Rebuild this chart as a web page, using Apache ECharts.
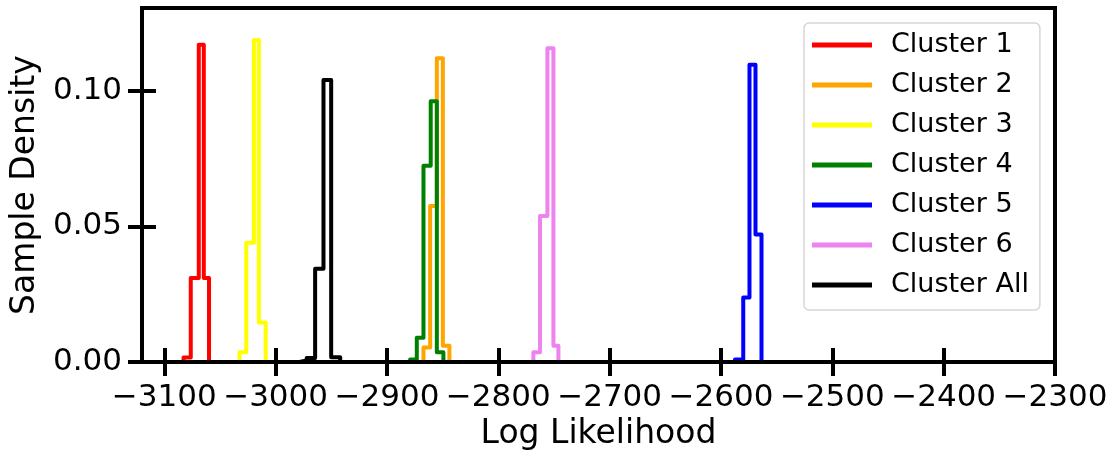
<!DOCTYPE html>
<html>
<head>
<meta charset="utf-8">
<script src="https://cdn.jsdelivr.net/npm/echarts@6/dist/echarts.min.js"></script>
<style>
html,body{margin:0;padding:0;background:#fff;}
#chart{width:1118px;height:456px;}
</style>
</head>
<body>
<div id="chart"></div>
<script>
// ---- data (bin edges and densities) ----
const seriesNames = ['Cluster 1','Cluster 2','Cluster 3','Cluster 4','Cluster 5','Cluster 6','Cluster All'];
const seriesColors = ['#ff0000','#ffa500','#ffff00','#008000','#0000ff','#ee82ee','#000000'];

const c1Edges = [-3082.7, -3076.2, -3069.0, -3064.5, -3059.8];
const c1Dens  = [0.0017, 0.031, 0.117, 0.031];
const c2Edges = [-2867.2, -2861.2, -2855.2, -2849.8, -2843.9];
const c2Dens  = [0.0054, 0.0575, 0.112, 0.006];
const c3Edges = [-3032.4, -3026.4, -3019.5, -3015.0, -3008.9];
const c3Dens  = [0.0036, 0.044, 0.1187, 0.0146];
const c4Edges = [-2879.2, -2873.2, -2867.2, -2860.7, -2855.2, -2849.3];
const c4Dens  = [0.001, 0.009, 0.0724, 0.0961, 0.0036];
const c5Edges = [-2587.4, -2580.0, -2574.4, -2569.0, -2563.6];
const c5Dens  = [0.001, 0.0238, 0.1096, 0.047];
const c6Edges = [-2768.5, -2762.5, -2755.9, -2750.5, -2746.0];
const c6Dens  = [0.0036, 0.0538, 0.1157, 0.006];
const allEdges = [-2979.7, -2972.1, -2964.5, -2957.0, -2950.1, -2942.0];
const allDens  = [0.0006, 0.0015, 0.0344, 0.104, 0.0018];

const xTicks = [-3100, -3000, -2900, -2800, -2700, -2600, -2500, -2400, -2300];
const yTicks = [0.00, 0.05, 0.10];
const xMin = -3120, xMax = -2300;
const yMin = 0, yMax = 0.1305;

const edgeSets = [c1Edges, c2Edges, c3Edges, c4Edges, c5Edges, c6Edges, allEdges];
const densSets = [c1Dens, c2Dens, c3Dens, c4Dens, c5Dens, c6Dens, allDens];

// step outline like a 'step' histogram
function stepPath(edges, dens) {
  const pts = [[edges[0], 0]];
  for (let i = 0; i < dens.length; i++) {
    pts.push([edges[i], dens[i]]);
    pts.push([edges[i + 1], dens[i]]);
  }
  pts.push([edges[edges.length - 1], 0]);
  return pts;
}

const FONT = 'DejaVu Sans';
const fmtX = v => (v < 0 ? '\u2212' + Math.abs(v) : String(v));
const fmtY = v => Number(v).toFixed(2);

const series = seriesNames.map((n, i) => ({
  name: n,
  type: 'line',
  xAxisIndex: 0,
  yAxisIndex: 0,
  data: stepPath(edgeSets[i], densSets[i]),
  showSymbol: false,
  symbol: 'none',
  color: seriesColors[i],
  lineStyle: { color: seriesColors[i], width: 4, join: 'round', cap: 'butt' },
  animation: false,
  z: 3 + i
}));

const chart = echarts.init(document.getElementById('chart'), null, { renderer: 'canvas' });
chart.setOption({
  animation: false,
  backgroundColor: '#ffffff',
  grid: {
    left: 142, right: 63, top: 8, bottom: 93,
    show: true, borderColor: '#000', borderWidth: 4, backgroundColor: 'transparent', z: 10
  },
  legend: {
    orient: 'vertical',
    left: 804, top: 23,
    padding: [7, 11, 10, 8],
    itemGap: 10,
    itemWidth: 60, itemHeight: 5,
    icon: 'rect',
    backgroundColor: '#fff',
    borderColor: '#d6d6d6', borderWidth: 1.5, borderRadius: 5,
    textStyle: { fontFamily: FONT, fontSize: 27, color: '#000', lineHeight: 30, padding: [0, 0, 0, 14] },
    data: seriesNames,
    z: 20
  },
  xAxis: [
    {
      type: 'value', position: 'bottom', min: xMin, max: xMax,
      name: 'Log Likelihood', nameLocation: 'middle', nameGap: 55,
      nameTextStyle: { fontFamily: FONT, fontSize: 33, color: '#000' },
      axisLine: { show: false },
      splitLine: { show: false },
      axisTick: { show: true, inside: false, length: 14, customValues: xTicks, lineStyle: { color: '#000', width: 4 } },
      axisLabel: { show: true, customValues: xTicks, formatter: fmtX, margin: 20, fontFamily: FONT, fontSize: 31, color: '#000' }
    },
    {
      type: 'value', position: 'bottom', min: xMin, max: xMax,
      axisLine: { show: false }, splitLine: { show: false },
      axisTick: { show: true, inside: true, length: 14, customValues: xTicks, lineStyle: { color: '#000', width: 4 } },
      axisLabel: { show: false }
    }
  ],
  yAxis: [
    {
      type: 'value', position: 'left', min: yMin, max: yMax,
      name: 'Sample Density', nameLocation: 'middle', nameGap: 97,
      nameTextStyle: { fontFamily: FONT, fontSize: 33, color: '#000' },
      axisLine: { show: false }, splitLine: { show: false },
      axisTick: { show: true, inside: false, length: 14, customValues: yTicks, lineStyle: { color: '#000', width: 4 } },
      axisLabel: { show: true, customValues: yTicks, formatter: fmtY, margin: 20, fontFamily: FONT, fontSize: 31, color: '#000' }
    },
    {
      type: 'value', position: 'left', min: yMin, max: yMax,
      axisLine: { show: false }, splitLine: { show: false },
      axisTick: { show: true, inside: true, length: 14, customValues: yTicks, lineStyle: { color: '#000', width: 4 } },
      axisLabel: { show: false }
    }
  ],
  series: series
});
</script>
</body>
</html>
